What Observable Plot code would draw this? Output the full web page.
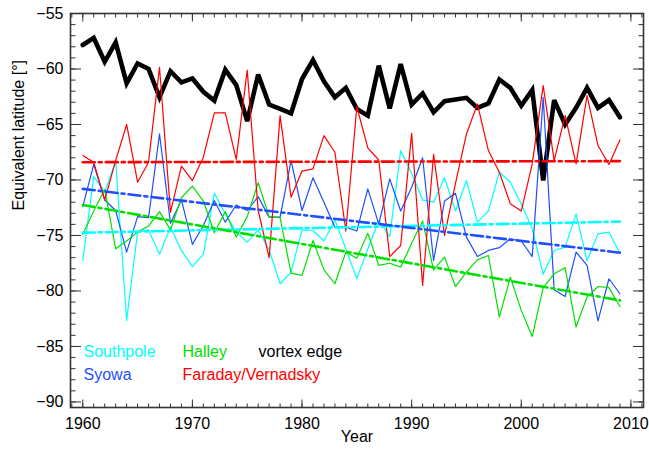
<!DOCTYPE html>
<html><head><meta charset="utf-8">
<script src="https://cdn.jsdelivr.net/npm/d3@7"></script>
<script src="https://cdn.jsdelivr.net/npm/@observablehq/plot@0.6"></script>
<style>html,body{margin:0;padding:0;background:#fff;}</style>
</head><body><div id="chart"></div>
<script>
const years = [1960,1961,1962,1963,1964,1965,1966,1967,1968,1969,
  1970,1971,1972,1973,1974,1975,1976,1977,1978,1979,
  1980,1981,1982,1983,1984,1985,1986,1987,1988,1989,
  1990,1991,1992,1993,1994,1995,1996,1997,1998,1999,
  2000,2001,2002,2003,2004,2005,2006,2007,2008,2009];

const vortexEdge = [-57.84,-57.2,-59.35,-57.6,-61.3,-59.5,-60.0,-62.55,-60.2,-61.2,
  -60.85,-62.05,-62.85,-60.06,-61.45,-64.7,-60.5,-63.2,-63.6,-64.0,
  -60.9,-59.2,-61.1,-62.55,-61.7,-63.6,-64.2,-59.7,-63.55,-59.55,
  -63.2,-62.2,-63.9,-62.9,-62.75,-62.6,-63.5,-63.1,-60.95,-61.7,
  -63.3,-61.9,-70.05,-62.8,-65.0,-63.5,-61.7,-63.5,-62.8,-64.35];

const southpole = [-77.25,-69.7,-71.1,-68.3,-82.65,-74.7,-74.5,-76.7,-74.25,-76.35,
  -77.8,-76.7,-71.2,-73.05,-74.7,-75.6,-74.5,-76.3,-79.35,-78.3,
  -74.5,-74.55,-75.5,-73.6,-76.2,-78.9,-76.2,-73.65,-75.1,-67.35,
  -69.4,-71.8,-72.0,-69.8,-72.8,-70.05,-73.8,-72.8,-69.3,-70.2,
  -72.15,-74.4,-78.5,-76.35,-76.05,-73.05,-77.25,-74.85,-74.7,-76.6];

const syowa = [-72.4,-68.6,-71.8,-72.75,-76.5,-73.3,-73.4,-65.85,-73.9,-71.8,
  -75.8,-74.1,-71.85,-73.8,-72.25,-72.75,-71.5,-73.35,-73.35,-68.25,
  -72.75,-69.8,-72.0,-74.25,-74.25,-74.6,-70.8,-73.95,-69.9,-72.8,
  -70.65,-68.0,-77.25,-71.9,-71.2,-75.15,-76.9,-76.35,-76.1,-75.3,
  -75.5,-76.9,-62.55,-79.9,-80.5,-76.5,-77.7,-82.7,-78.9,-80.25];

const halley = [-74.9,-72.8,-70.85,-76.2,-75.5,-74.7,-74.15,-72.85,-74.5,-71.6,
  -70.55,-71.9,-74.75,-72.85,-75.15,-73.3,-70.25,-73.3,-73.4,-78.4,
  -78.6,-75.45,-78.1,-79.35,-76.5,-77.05,-74.8,-77.7,-77.5,-77.85,
  -75.7,-73.7,-78.1,-76.95,-79.6,-78.3,-77.2,-76.8,-82.35,-78.75,
  -81.75,-84.1,-79.7,-78.45,-77.9,-83.25,-80.55,-79.6,-79.7,-81.4];

const faraday = [-67.8,-68.4,-71.8,-68.25,-65.0,-70.2,-68.4,-59.85,-72.9,-68.75,
  -70.05,-67.95,-63.95,-63.95,-68.15,-60.1,-72.75,-77.0,-64.2,-71.55,
  -69.2,-69.0,-66.0,-67.5,-74.6,-63.4,-67.1,-68.2,-76.9,-75.9,
  -65.8,-79.5,-67.7,-75.0,-70.3,-65.85,-63.15,-67.35,-69.3,-72.15,
  -72.8,-68.55,-61.5,-68.25,-64.2,-68.55,-62.4,-66.9,-68.6,-66.4];

// trend lines (start 1960, end 2009)
const trendYears = [1960, 2009];
const southpoleTrend = [-74.75, -73.75];
const syowaTrend = [-70.8, -76.55];
const halleyTrend = [-72.25, -80.85];
const faradayTrend = [-68.4, -68.3];

const stationNames = ["Southpole", "Syowa", "Halley", "Faraday/Vernadsky"];
const stationColors = ["#00ffff", "#1f4fff", "#00e000", "#ff0000"];
const stationValues = [southpole, syowa, halley, faraday];
const stationTrends = [southpoleTrend, syowaTrend, halleyTrend, faradayTrend];

const majorX = [1960, 1970, 1980, 1990, 2000, 2010];
const minorX = [1959, ...years, 2010, 2011];
const majorY = [-90, -85, -80, -75, -70, -65, -60, -55];
const minorY = d3.range(-90, -54, 1);

const vortexRows = years.map((y, i) => ({year: y, value: vortexEdge[i]}));
const stationRows = stationNames.flatMap((n, k) => years.map((y, i) => ({name: n, year: y, value: stationValues[k][i]})));
const trendRows = stationNames.flatMap((n, k) => trendYears.map((y, i) => ({name: n, year: y, value: stationTrends[k][i]})));

const colorOf = Object.fromEntries(stationNames.map((n, k) => [n, stationColors[k]]));
const frameColor = "#333";

const chart = Plot.plot({
  width: 649,
  height: 451,
  marginLeft: 70,
  marginRight: 6,
  marginTop: 13,
  marginBottom: 44,
  style: {fontFamily: "'Liberation Sans', Arial, Helvetica, sans-serif", fontSize: "16px", background: "#fff", color: "#000"},
  x: {domain: [1958.88, 2011.15], label: null},
  y: {domain: [-90.5, -55], label: null},
  marks: [
    // ticks (inward) on all four sides
    Plot.axisX({ticks: minorX, anchor: "bottom", tickSize: -3.5, text: null, label: null, stroke: frameColor}),
    Plot.axisX({ticks: majorX, anchor: "bottom", tickSize: -7.5, text: null, label: null, stroke: frameColor}),
    Plot.axisX({ticks: minorX, anchor: "top", tickSize: -3.5, text: null, label: null, stroke: frameColor}),
    Plot.axisX({ticks: majorX, anchor: "top", tickSize: -7.5, text: null, label: null, stroke: frameColor}),
    Plot.axisY({ticks: minorY, anchor: "left", tickSize: -5.5, text: null, label: null, stroke: frameColor}),
    Plot.axisY({ticks: majorY, anchor: "left", tickSize: -11, text: null, label: null, stroke: frameColor}),
    Plot.axisY({ticks: minorY, anchor: "right", tickSize: -5.5, text: null, label: null, stroke: frameColor}),
    Plot.axisY({ticks: majorY, anchor: "right", tickSize: -11, text: null, label: null, stroke: frameColor}),
    // tick labels
    Plot.axisX({ticks: majorX, anchor: "bottom", tickSize: 0, tickPadding: 10, label: null, tickFormat: d => String(d), fontSize: 16}),
    Plot.axisY({ticks: majorY, anchor: "left", tickSize: 0, tickPadding: 7, label: null, tickFormat: d => String(d).replace("-", "\u2212"), fontSize: 16}),
    // data
    Plot.line(vortexRows, {x: "year", y: "value", stroke: "#000", strokeWidth: 4.6, strokeLinejoin: "miter", strokeMiterlimit: 3}),
    Plot.line(stationRows, {x: "year", y: "value", z: "name", stroke: d => colorOf[d.name], strokeWidth: 1.2}),
    Plot.line(trendRows, {x: "year", y: "value", z: "name", stroke: d => colorOf[d.name], strokeWidth: 2.6, strokeDasharray: "12,4,3,4"}),
    Plot.frame({stroke: frameColor, strokeWidth: 1.6}),
    // legend
    Plot.text(["Southpole"], {text: d => d, frameAnchor: "bottom-left", dx: 13, dy: -50.5, textAnchor: "start", fill: stationColors[0], fontSize: 16}),
    Plot.text(["Syowa"], {text: d => d, frameAnchor: "bottom-left", dx: 13, dy: -28, textAnchor: "start", fill: stationColors[1], fontSize: 16}),
    Plot.text(["Halley"], {text: d => d, frameAnchor: "bottom-left", dx: 112, dy: -50.5, textAnchor: "start", fill: stationColors[2], fontSize: 16}),
    Plot.text(["Faraday/Vernadsky"], {text: d => d, frameAnchor: "bottom-left", dx: 112, dy: -28, textAnchor: "start", fill: stationColors[3], fontSize: 16}),
    Plot.text(["vortex edge"], {text: d => d, frameAnchor: "bottom-left", dx: 188, dy: -50.5, textAnchor: "start", fill: "#000", fontSize: 16}),
    // axis titles
    Plot.text(["Year"], {text: d => d, frameAnchor: "bottom", dy: 34.6, fontSize: 16, fill: "#000"}),
    Plot.text(["Equivalent latitude [°]"], {text: d => d, frameAnchor: "left", dx: -52, rotate: -90, fontSize: 16, fill: "#000"})
  ]
});
document.getElementById("chart").appendChild(chart);
</script>
</body></html>
